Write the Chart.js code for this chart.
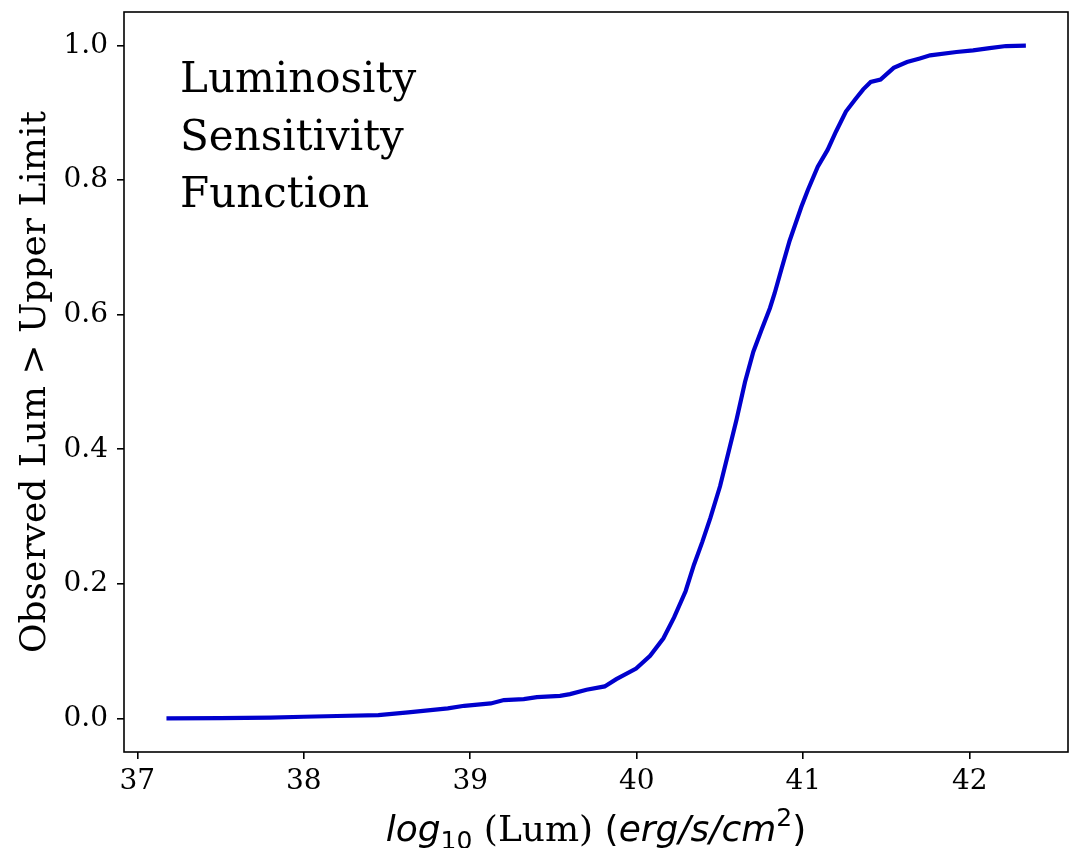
<!DOCTYPE html>
<html>
<head>
<meta charset="utf-8">
<script src="https://cdn.jsdelivr.net/npm/chart.js@4.4.0/dist/chart.umd.min.js"></script>
<style>
  html, body { margin: 0; padding: 0; background: #fff; }
  #wrap { width: 1069px; height: 848px; }
</style>
</head>
<body>
<div id="wrap"><canvas id="c" width="1069" height="848"></canvas></div>
<script>
// values
var lumValues = [37.175, 37.5, 37.8, 38.0, 38.2, 38.448, 38.627, 38.865, 38.964, 39.123,
  39.202, 39.321, 39.40, 39.539, 39.599, 39.698, 39.807, 39.877, 39.996, 40.08,
  40.16, 40.224, 40.293, 40.343, 40.393, 40.442, 40.50, 40.55, 40.60, 40.65,
  40.70, 40.75, 40.80, 40.828, 40.869, 40.918, 40.988, 41.027, 41.087, 41.146,
  41.196, 41.256, 41.315, 41.36, 41.405, 41.464, 41.543, 41.623, 41.70, 41.762,
  41.920, 42.02, 42.119, 42.218, 42.337];
var fractionValues = [0, 0.0003, 0.001, 0.0024, 0.0035, 0.0049, 0.0089, 0.0148, 0.0187, 0.0222,
  0.0272, 0.0286, 0.0316, 0.0335, 0.0361, 0.0425, 0.0475, 0.0583, 0.074, 0.093,
  0.119, 0.150, 0.189, 0.228, 0.262, 0.298, 0.345, 0.395, 0.445, 0.50,
  0.545, 0.578, 0.61, 0.632, 0.668, 0.71, 0.760, 0.785, 0.820, 0.845,
  0.872, 0.902, 0.921, 0.935, 0.946, 0.9495, 0.967, 0.9757, 0.981, 0.9856,
  0.9905, 0.993, 0.9964, 0.9994, 1.0];
var xTicks = [37, 38, 39, 40, 41, 42];
var yTicks = [0.0, 0.2, 0.4, 0.6, 0.8, 1.0];
var noteLines = ["Luminosity", "Sensitivity", "Function"];

var points = [];
for (var i = 0; i < lumValues.length; i++) {
  points.push({x: lumValues[i], y: fractionValues[i]});
}

var SERIF = "'DejaVu Serif', serif";
var SANS = "'DejaVu Sans', sans-serif";

// frame, axis titles and the text note
var decorations = {
  id: "decorations",
  afterDraw: function(chart) {
    var ctx = chart.ctx;
    var a = chart.chartArea;
    ctx.save();
    ctx.strokeStyle = "#000";
    ctx.lineWidth = 1.6;
    ctx.strokeRect(a.left, a.top, a.right - a.left, a.bottom - a.top);

    ctx.fillStyle = "#000";
    ctx.textBaseline = "alphabetic";

    // note in the upper left
    ctx.font = "42px " + SERIF;
    ctx.textAlign = "left";
    for (var i = 0; i < noteLines.length; i++) {
      ctx.fillText(noteLines[i], 180, 92 + i * 57.5);
    }

    // y title
    ctx.save();
    ctx.translate(45, (a.top + a.bottom) / 2);
    ctx.rotate(-Math.PI / 2);
    ctx.textAlign = "center";
    ctx.font = "36px " + SERIF;
    ctx.fillText("Observed Lum > Upper Limit", 0, 0);
    ctx.restore();

    // x title, pieces like matplotlib mathtext
    var parts = [
      {t: "log", f: "italic 36px " + SANS, dy: 0},
      {t: "10", f: "25px " + SANS, dy: 8},
      {t: " (Lum) ", f: "36px " + SERIF, dy: 0},
      {t: "(", f: "36px " + SANS, dy: 0},
      {t: "erg/s/cm", f: "italic 36px " + SANS, dy: 0},
      {t: "2", f: "25px " + SANS, dy: -15},
      {t: ")", f: "36px " + SANS, dy: 0}
    ];
    var total = 0;
    parts.forEach(function(p) { ctx.font = p.f; p.w = ctx.measureText(p.t).width; total += p.w; });
    var x = (a.left + a.right) / 2 - total / 2;
    ctx.textAlign = "left";
    parts.forEach(function(p) {
      ctx.font = p.f;
      ctx.fillText(p.t, x, 841 + p.dy);
      x += p.w;
    });
    ctx.restore();
  }
};

function noPad(scale) {
  scale.paddingTop = 0;
  scale.paddingBottom = 0;
  scale.paddingLeft = 0;
  scale.paddingRight = 0;
}

new Chart(document.getElementById("c"), {
  type: "scatter",
  data: {
    datasets: [{
      data: points,
      showLine: true,
      borderColor: "#0000cd",
      backgroundColor: "#0000cd",
      borderWidth: 4.2,
      pointRadius: 0,
      tension: 0
    }]
  },
  options: {
    responsive: false,
    animation: false,
    layout: {padding: {top: 12, right: 1, left: 0, bottom: 0}},
    plugins: {legend: {display: false}, tooltip: {enabled: false}},
    scales: {
      x: {
        type: "linear",
        min: 36.92,
        max: 42.59,
        afterBuildTicks: function(scale) {
          scale.ticks = xTicks.map(function(v) { return {value: v}; });
        },
        afterFit: function(scale) { scale.height = 96; noPad(scale); },
        border: {display: false},
        grid: {drawOnChartArea: false, drawTicks: true, tickLength: 7, color: "#000", lineWidth: 1.6},
        ticks: {
          color: "#000",
          font: {family: SERIF, size: 28},
          padding: 6,
          maxRotation: 0,
          callback: function(v) { return String(v); }
        }
      },
      y: {
        type: "linear",
        min: -0.05,
        max: 1.05,
        afterBuildTicks: function(scale) {
          scale.ticks = yTicks.map(function(v) { return {value: v}; });
        },
        afterFit: function(scale) { scale.width = 124; noPad(scale); },
        border: {display: false},
        grid: {drawOnChartArea: false, drawTicks: true, tickLength: 7, color: "#000", lineWidth: 1.6},
        ticks: {
          color: "#000",
          font: {family: SERIF, size: 28},
          padding: 9,
          callback: function(v) { return v.toFixed(1); }
        }
      }
    }
  },
  plugins: [decorations]
});
</script>
</body>
</html>
